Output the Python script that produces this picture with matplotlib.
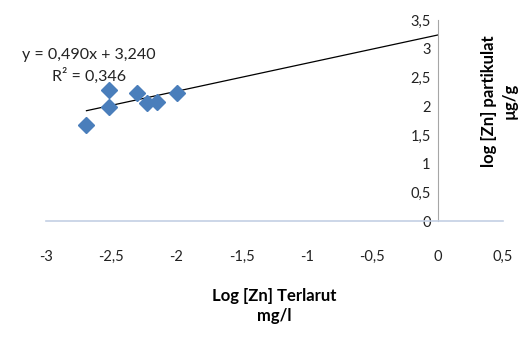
import matplotlib.pyplot as plt
import numpy as np

plt.rcParams['font.family'] = ['Lato', 'DejaVu Sans']

# log of dissolved Zn (mg/l) vs log of particulate Zn (µg/g)
log_zn_terlarut = [-2.69, -2.52, -2.52, -2.30, -2.23, -2.15, -2.00]
log_zn_partikulat = [1.67, 2.28, 1.99, 2.23, 2.06, 2.07, 2.23]

# linear trendline
slope = 0.490
intercept = 3.240
r2 = 0.346

x_ticks = [-3, -2.5, -2, -1.5, -1, -0.5, 0, 0.5]
y_ticks = [0, 0.5, 1, 1.5, 2, 2.5, 3, 3.5]


def comma(v):
    s = f"{v:g}"
    return s.replace('.', ',')


fig = plt.figure(figsize=(5.19, 3.37), dpi=100)
ax = fig.add_axes([0.0886, 0.344, 0.8805, 0.5964])

ax.plot(log_zn_terlarut, log_zn_partikulat, linestyle='none', marker='D',
        markersize=8, color='#4a7ebb', zorder=3)

xt = np.array([min(log_zn_terlarut), 0])
ax.plot(xt, slope * xt + intercept, color='black', lw=0.9, zorder=2)

ax.set_xlim(-3, 0.5)
ax.set_ylim(0, 3.5)

ax.spines['left'].set_position(('data', 0))
ax.spines['left'].set_color('#a6a6a6')
ax.spines['bottom'].set_color('#c3d0e4')
ax.spines['bottom'].set_linewidth(1.2)
ax.spines['top'].set_visible(False)
ax.spines['right'].set_visible(False)

ax.set_xticks(x_ticks)
ax.set_xticklabels([comma(v) for v in x_ticks])
ax.set_yticks(y_ticks)
ax.set_yticklabels([comma(v) for v in y_ticks])
ax.tick_params(axis='x', length=0, pad=21, labelsize=10.5, colors='#222222')
ax.tick_params(axis='y', length=0, pad=5, labelsize=10.5, colors='#222222')

ax.set_xlabel("Log [Zn] Terlarut\nmg/l", fontsize=12, fontweight='bold',
              labelpad=17, linespacing=1.3)
fig.text(0.962, 0.70, "log [Zn] partikulat\nµg/g", rotation=90,
         ha='center', va='center', fontsize=12, fontweight='bold',
         linespacing=1.3)

eq = f"y = {slope:.3f}x + {intercept:.3f}".replace('.', ',')
r2_txt = f"R² = {r2:.3f}".replace('.', ',')
fig.text(0.172, 0.804, eq + "\n" + r2_txt, ha='center', va='center',
         fontsize=11.5, linespacing=1.4, color='#222222')

fig.savefig('out.png', dpi=100)
